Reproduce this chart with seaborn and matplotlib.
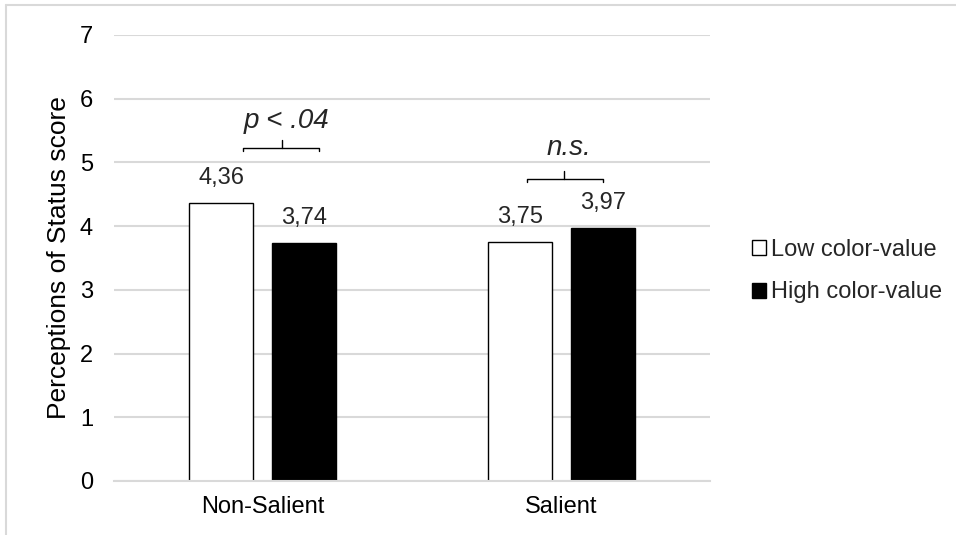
import pandas as pd
import matplotlib.pyplot as plt
from matplotlib.patches import Patch
from matplotlib.lines import Line2D
import seaborn as sns

conditions = ["Non-Salient", "Salient"]
groups = ["Low color-value", "High color-value"]
low_values = [4.36, 3.75]
high_values = [3.74, 3.97]
sig_labels = ["p < .04", "n.s."]

df = pd.DataFrame({
    "condition": conditions * 2,
    "group": [groups[0]] * 2 + [groups[1]] * 2,
    "score": low_values + high_values,
})

sns.set_theme(style="whitegrid")
plt.rcParams['font.family'] = ['Liberation Sans', 'DejaVu Sans']

fig = plt.figure(figsize=(9.56, 5.35), dpi=100)
ax = fig.add_axes([0.119, 0.101, 0.624, 0.8336])

sns.barplot(data=df, x="condition", y="score", hue="group",
            palette=["white", "black"], edgecolor="black", linewidth=1,
            width=0.557, gap=0.228, legend=False, ax=ax)

ax.set_ylim(0, 7)
ax.set_xlim(-0.5, 1.5)
ax.set_yticks(range(0, 8))
ax.grid(axis="y", color="#d9d9d9", linewidth=1.5)
ax.grid(axis="x", visible=False)
ax.set_axisbelow(True)
for s in ["top", "right", "left"]:
    ax.spines[s].set_visible(False)
ax.spines["bottom"].set_color("#d9d9d9")
ax.spines["bottom"].set_linewidth(1.5)
ax.tick_params(axis="y", length=0, pad=15, labelsize=17, colors="black")
ax.tick_params(axis="x", length=0, pad=11, labelsize=17, colors="black")
ax.set_xlabel("")
ax.set_ylabel("Perceptions of Status score", fontsize=19, color="black", labelpad=6)

# value labels
for cont in ax.containers:
    ax.bar_label(cont, labels=[f"{v:.2f}".replace(".", ",") for v in cont.datavalues],
                 padding=10, fontsize=17)

# significance brackets: (left, right, centre, bracket y, text y)
brackets = [(-0.067, 0.188, 0.064, 5.23, 5.54), (0.886, 1.141, 1.01, 4.74, 5.12)]
for (x0, x1, xc, yb, yt), lab in zip(brackets, sig_labels):
    ax.plot([x0, x0, x1, x1], [yb - 0.05, yb, yb, yb - 0.05], color="black", lw=1)
    ax.plot([xc, xc], [yb, yb + 0.12], color="black", lw=1)
    ax.text(xc + 0.015, yt, lab, ha="center", va="baseline",
            fontsize=20, style="italic")

handles = [Patch(facecolor="white", edgecolor="black", linewidth=1),
           Patch(facecolor="black", edgecolor="black", linewidth=1)]
fig.legend(handles, groups, loc="center left", bbox_to_anchor=(0.764, 0.493),
           frameon=False, fontsize=17, handlelength=0.6, handleheight=0.6,
           handletextpad=0.2, labelspacing=0.86)

# outer chart border
fig.add_artist(Line2D([6 / 956, 6 / 956], [0, 1 - 5 / 535], color="#d9d9d9", lw=1.5))
fig.add_artist(Line2D([6 / 956, 1], [1 - 5 / 535, 1 - 5 / 535], color="#d9d9d9", lw=1.5))

plt.savefig("out.png", dpi=100)
